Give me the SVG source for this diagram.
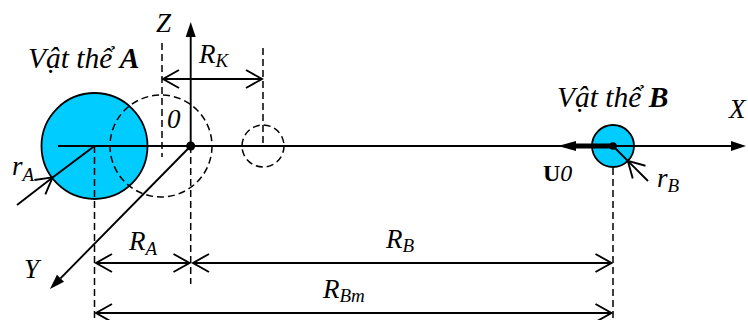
<svg xmlns="http://www.w3.org/2000/svg" width="748" height="320" viewBox="0 0 748 320">
<style>
.ln{stroke:#000;stroke-width:1.9;fill:none}
.dash{stroke:#000;stroke-width:1.5;fill:none;stroke-dasharray:7 4}
.body{fill:#00CCFF;stroke:#000;stroke-width:1.8}
text{font-family:'Liberation Serif','Times New Roman','DejaVu Serif',serif;font-style:italic;font-size:27px;fill:#000}
.big{font-size:29.5px}
.sub{font-size:19px}
.b{font-weight:bold}
.up{font-style:normal;font-weight:bold}
</style>
<defs>
<marker id="open" markerUnits="userSpaceOnUse" markerWidth="24" markerHeight="24" viewBox="-20 -12 24 24" refX="0" refY="0" orient="auto-start-reverse" overflow="visible">
<path d="M-16,-9 L0,0 L-16,9" fill="none" stroke="#000" stroke-width="1.9"/>
</marker>
<marker id="fill" markerUnits="userSpaceOnUse" markerWidth="20" markerHeight="12" viewBox="0 -6 20 12" refX="0" refY="0" orient="auto" overflow="visible">
<path d="M0,-5 L15,0 L0,5 Z" fill="#000"/>
</marker>
<marker id="thick" markerUnits="userSpaceOnUse" markerWidth="22" markerHeight="12" viewBox="0 -6 22 12" refX="0" refY="0" orient="auto" overflow="visible">
<path d="M0,-5 L18,0 L0,5 Z" fill="#000"/>
</marker>
</defs>

<g id="bodyA">
<circle class="body" cx="94.5" cy="146" r="53"/>
<text class="big" x="28" y="68">Vật thể <tspan class="b">A</tspan></text>
</g>

<g id="guides">
<circle class="dash" cx="161" cy="146" r="51"/>
<circle class="dash" cx="263" cy="146" r="21"/>
<line class="dash" x1="162" y1="43" x2="162" y2="157"/>
<line class="dash" x1="263" y1="48" x2="263" y2="146"/>
<line class="dash" x1="94.5" y1="146" x2="94.5" y2="320"/>
<line class="dash" x1="190.7" y1="146" x2="190.7" y2="284"/>
<line class="dash" x1="613" y1="146" x2="613" y2="320"/>
</g>

<g id="bodyB">
<circle class="body" cx="613" cy="146" r="21"/>
<text class="big" x="557" y="107">Vật thể <tspan class="b">B</tspan></text>
</g>

<g id="connectors">
<line class="ln" x1="58" y1="146" x2="731" y2="146" marker-end="url(#fill)"/>
<line class="ln" x1="190.7" y1="146" x2="190.7" y2="37" marker-end="url(#fill)"/>
<line class="ln" x1="190.7" y1="146" x2="60.5" y2="278.3" marker-end="url(#fill)"/>
<line class="ln" x1="163" y1="79" x2="262" y2="79" marker-start="url(#open)" marker-end="url(#open)"/>
<line class="ln" x1="96" y1="263" x2="189.5" y2="263" marker-start="url(#open)" marker-end="url(#open)"/>
<line class="ln" x1="193" y1="263" x2="611.5" y2="263" marker-start="url(#open)" marker-end="url(#open)"/>
<line class="ln" x1="96" y1="313" x2="611.5" y2="313" marker-start="url(#open)" marker-end="url(#open)"/>
<path class="ln" d="M17,205 L52.6,177.4 L94.5,146" marker-mid="url(#open)"/>
<path class="ln" d="M648,181 L627.8,160.8 L613,146" marker-mid="url(#open)"/>
<line x1="613" y1="146" x2="576" y2="146" stroke="#000" stroke-width="5" marker-end="url(#thick)"/>
</g>

<g id="origin">
<circle cx="190.7" cy="146" r="4.5" fill="#000"/>
<circle cx="613" cy="146" r="3.8" fill="#000"/>
</g>

<g id="labels">
<text x="156" y="32">Z</text>
<text x="729" y="118">X</text>
<text x="24" y="278">Y</text>
<text x="167" y="128">0</text>
<text x="199" y="63">R<tspan class="sub" dy="4">K</tspan></text>
<text x="129" y="250">R<tspan class="sub" dy="5">A</tspan></text>
<text x="386" y="248">R<tspan class="sub" dy="4">B</tspan></text>
<text x="323" y="298">R<tspan class="sub" dy="4">Bm</tspan></text>
<text x="12" y="175">r<tspan class="sub" dy="6">A</tspan></text>
<text x="657" y="187">r<tspan class="sub" dy="5">B</tspan></text>
<text x="543" y="181" style="font-size:24px"><tspan class="up">U</tspan>0</text>
</g>
</svg>
